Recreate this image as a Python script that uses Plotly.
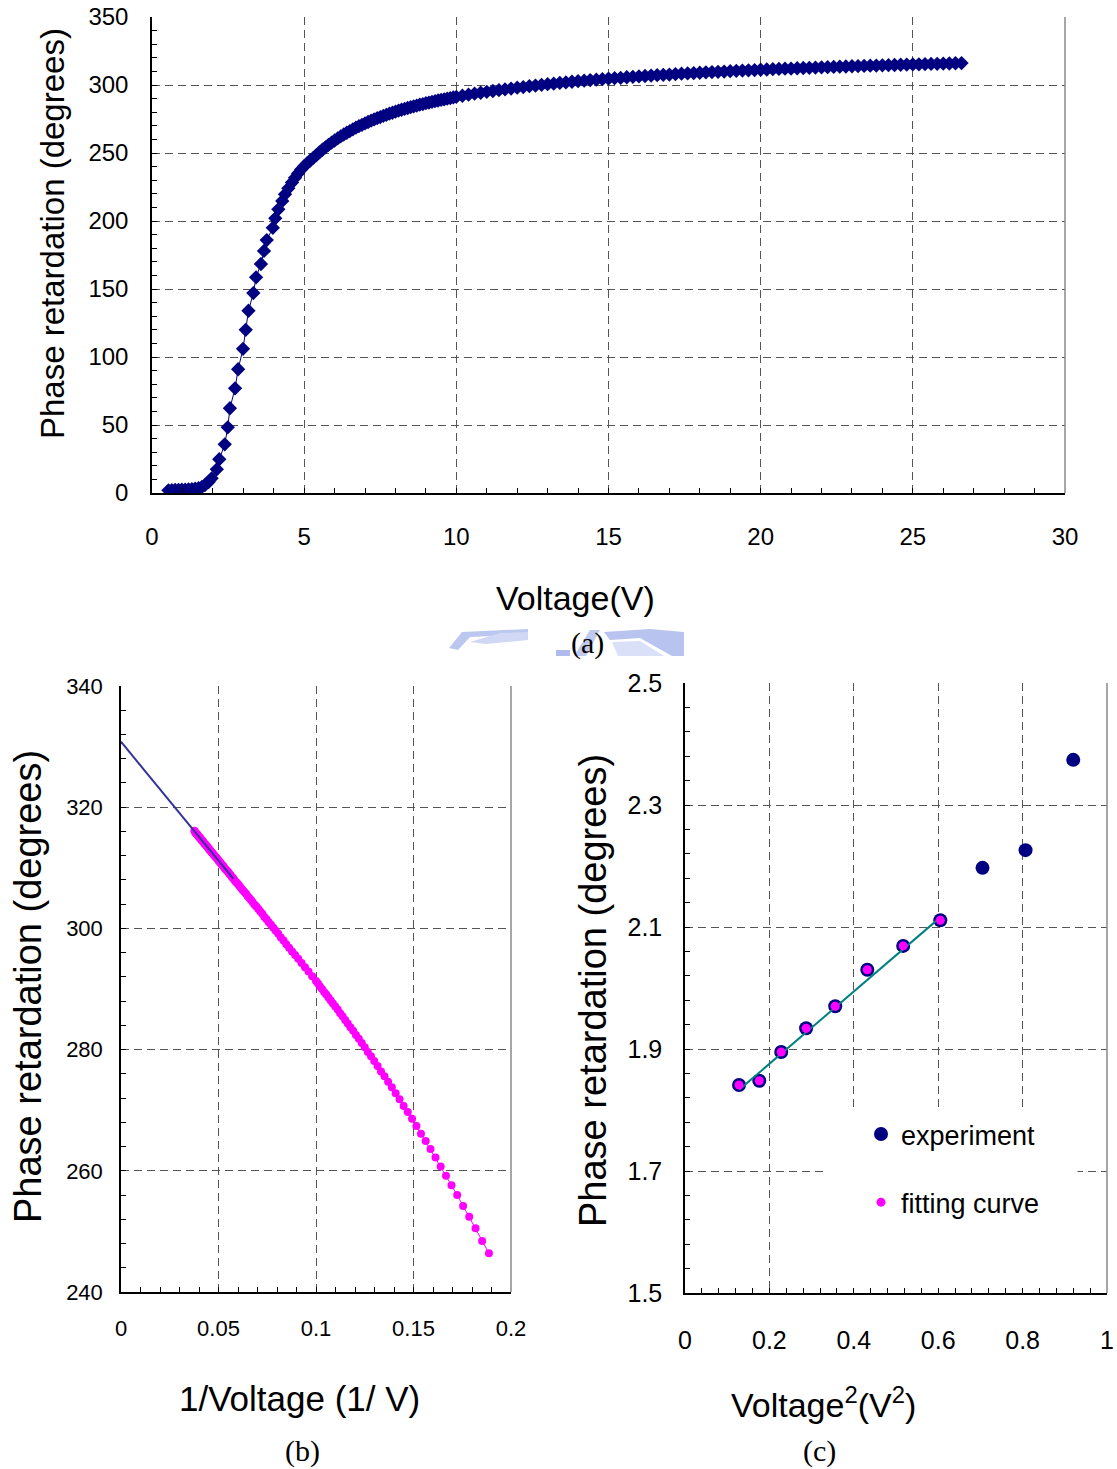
import plotly.graph_objects as go

# ---------------- data ----------------
volt = [0.54, 0.65, 0.76, 0.87, 0.98, 1.09, 1.20, 1.31, 1.42, 1.53, 1.64,
        1.74, 1.86, 1.96, 2.13, 2.21, 2.39, 2.49, 2.56, 2.73, 2.83, 2.99, 3.08, 3.17,
        3.33, 3.42, 3.58, 3.68, 3.77, 3.97, 4.05, 4.15, 4.28, 4.37, 4.48,
        4.6, 4.7, 4.8, 4.9, 5.0, 5.1, 5.2,
        5.3, 5.4, 5.5, 5.6, 5.7, 5.8, 5.9, 6.0, 6.1, 6.2, 6.3, 6.4, 6.5, 6.6, 6.7, 6.8, 6.9,
        7.0, 7.1, 7.2, 7.3, 7.4, 7.5, 7.6, 7.7, 7.8, 7.9, 8.0, 8.1, 8.2, 8.3, 8.4, 8.5, 8.6,
        8.7, 8.8, 8.9, 9.0, 9.1, 9.2, 9.3, 9.4, 9.5, 9.6, 9.7, 9.8, 9.9, 10.0,
        10.2, 10.4, 10.6, 10.8, 11.0, 11.2, 11.4, 11.6, 11.8, 12.0, 12.2, 12.4, 12.6, 12.8,
        13.0, 13.2, 13.4, 13.6, 13.8, 14.0, 14.2, 14.4, 14.6, 14.8, 15.0, 15.2, 15.4, 15.6,
        15.8, 16.0, 16.2, 16.4, 16.6, 16.8, 17.0, 17.2, 17.4, 17.6, 17.8, 18.0, 18.2, 18.4,
        18.6, 18.8, 19.0, 19.2, 19.4, 19.6, 19.8, 20.0, 20.2, 20.4, 20.6, 20.8, 21.0, 21.2,
        21.4, 21.6, 21.8, 22.0, 22.2, 22.4, 22.6, 22.8, 23.0, 23.2, 23.4, 23.6, 23.8, 24.0,
        24.2, 24.4, 24.6, 24.8, 25.0, 25.2, 25.4, 25.6, 25.8, 26.0, 26.2, 26.4, 26.6]

phase = [2.0, 2.1, 2.2, 2.3, 2.4, 2.5, 2.7, 2.9, 3.2, 3.6, 4.5,
         5.9, 8.0, 10.8, 17.4, 24.8, 35.8, 48.3, 62.3, 77.0, 91.0, 106.0, 120.0, 134.0,
         147.0, 158.6, 168.4, 178.0, 186.0, 195.0, 202.0, 208.6, 214.7, 219.6, 224.0,
         228.3, 231.8, 235.0, 237.8, 240.3, 242.5, 244.5,
         246.4, 248.4, 250.5, 252.4, 254.2, 256.0, 257.6, 259.2, 260.7, 262.2, 263.6, 264.9,
         266.1, 267.4, 268.6, 269.7, 270.7, 271.8, 272.8, 273.8, 274.7, 275.6, 276.4, 277.3,
         278.1, 278.9, 279.6, 280.4, 281.1, 281.8, 282.4, 283.1, 283.7, 284.3, 284.9, 285.5,
         286.0, 286.6, 287.1, 287.6, 288.1, 288.6, 289.1, 289.5, 290.0, 290.4, 290.9, 291.3,
         292.1, 292.9, 293.6, 294.3, 295.0, 295.6, 296.2, 296.8, 297.4, 298.0, 298.5, 299.1,
         299.6, 300.1, 300.6, 301.0, 301.5, 301.9, 302.4, 302.8, 303.2, 303.6, 303.9, 304.3,
         304.7, 305.0, 305.3, 305.7, 306.0, 306.3, 306.6, 306.9, 307.2, 307.5, 307.7, 308.0,
         308.3, 308.5, 308.8, 309.0, 309.3, 309.5, 309.7, 309.9, 310.2, 310.4, 310.6, 310.8,
         311.0, 311.2, 311.4, 311.6, 311.8, 312.0, 312.1, 312.3, 312.5, 312.6, 312.8, 313.0,
         313.1, 313.3, 313.5, 313.6, 313.8, 313.9, 314.0, 314.2, 314.3, 314.5, 314.6, 314.7,
         314.9, 315.0, 315.1, 315.2, 315.4, 315.5, 315.6, 315.7, 315.8, 316.0, 316.1]

assert len(volt) == len(phase)

# (b) linear extrapolation line
fit_b_x = [0.0, 0.0576]
fit_b_y = [330.8, 308.2]

# (c) data
exp_x = [0.128, 0.176, 0.228, 0.287, 0.356, 0.432, 0.517, 0.605, 0.705, 0.807, 0.920]
exp_y = [1.841, 1.848, 1.895, 1.934, 1.970, 2.030, 2.069, 2.111, 2.197, 2.226, 2.374]
n_fit = 8
fit_c_x = [0.128, 0.607]
fit_c_y = [1.833, 2.117]

# ---------------- layout helpers ----------------
W, H = 1117, 1469
def fx(x): return x / W
def fy(y): return 1 - y / H

SANS = "Liberation Sans, Arial, sans-serif"
SERIF = "Liberation Serif, Times New Roman, serif"
NAVY = "#000080"
MAG = "#FF00FF"
GRID = "#555555"

fig = go.Figure()

# (a)
fig.add_trace(go.Scatter(x=volt, y=phase, mode="lines+markers",
                         marker=dict(symbol="diamond", size=11, color=NAVY),
                         line=dict(color=NAVY, width=1),
                         xaxis="x", yaxis="y", showlegend=False))

# (b)
recip = [1.0 / v for v in volt if v >= 5.25]
phase_b = [p for v, p in zip(volt, phase) if v >= 5.25]
fig.add_trace(go.Scatter(x=recip, y=phase_b, mode="lines+markers",
                         marker=dict(size=8, color=MAG),
                         line=dict(color=MAG, width=1),
                         xaxis="x2", yaxis="y2", showlegend=False))
fig.add_trace(go.Scatter(x=fit_b_x, y=fit_b_y, mode="lines",
                         line=dict(color="#333399", width=2),
                         xaxis="x2", yaxis="y2", showlegend=False))

# (c)
fig.add_trace(go.Scatter(x=exp_x, y=exp_y, mode="markers", name="experiment",
                         marker=dict(size=14, color=NAVY),
                         legendgroup="e", xaxis="x3", yaxis="y3"))
fig.add_trace(go.Scatter(x=fit_c_x, y=fit_c_y, mode="lines",
                         line=dict(color="#008080", width=2),
                         showlegend=False, xaxis="x3", yaxis="y3"))
fig.add_trace(go.Scatter(x=exp_x[:n_fit], y=exp_y[:n_fit], mode="markers", name="fitting curve",
                         marker=dict(size=9, color=MAG),
                         legendgroup="f", xaxis="x3", yaxis="y3"))


def axis(domain, rng, dtick, minor_dtick, anchor, fsize, standoff, tick0=0, fmt=None):
    d = dict(domain=domain, range=rng, dtick=dtick, tick0=tick0, anchor=anchor,
             automargin=False,
             showgrid=True, gridcolor=GRID, gridwidth=1, griddash="8px,5px",
             showline=True, linecolor="black", linewidth=1.5,
             ticks="inside", ticklen=5, tickcolor="black", tickwidth=1,
             minor=dict(dtick=minor_dtick, tick0=tick0, ticks="inside", ticklen=5,
                        tickcolor="black", showgrid=False),
             tickfont=dict(family=SANS, size=fsize, color="black"),
             ticklabelstandoff=standoff, zeroline=False, fixedrange=True)
    if fmt:
        d["tickformat"] = fmt
    return d

fig.update_layout(
    width=W, height=H, margin=dict(l=0, r=0, t=0, b=0, pad=0, autoexpand=False),
    paper_bgcolor="white", plot_bgcolor="white",
    xaxis=axis([fx(152), fx(1065)], [0, 30], 5, 1, "y", 24, 21),
    yaxis=axis([fy(493), fy(17)], [0, 350], 50, 10, "x", 24, 17),
    xaxis2=axis([fx(121), fx(511)], [0, 0.2], 0.05, 0.01, "y2", 22, 16),
    yaxis2=axis([fy(1292), fy(686)], [240, 340], 20, 4, "x2", 22, 12),
    xaxis3=axis([fx(685), fx(1107)], [0, 1], 0.2, 0.04, "y3", 25, 24),
    yaxis3=axis([fy(1293), fy(683)], [1.5, 2.5], 0.2, 0.04, "x3", 25, 16, tick0=1.5, fmt=".1f"),
    legend=dict(x=fx(861), y=fy(1110), xanchor="left", yanchor="top",
                bgcolor="rgba(0,0,0,0)", font=dict(family=SANS, size=27, color="black"),
                tracegroupgap=30, traceorder="grouped"),
)

shapes = []
# white area behind legend in (c)
shapes.append(dict(type="rect", xref="x3", yref="y3", x0=0.327, x1=0.93, y0=1.5, y1=1.797,
                   fillcolor="white", line=dict(width=0), layer="between"))
# right borders
for xr, yr in (("x domain", "y domain"), ("x2 domain", "y2 domain"), ("x3 domain", "y3 domain")):
    shapes.append(dict(type="line", xref=xr, yref=yr, x0=1, x1=1, y0=0, y1=1,
                       line=dict(color="#888888", width=1.5)))

# faint watermark pieces behind "(a)"
def poly(pts, color):
    p = "M " + " L ".join(f"{fx(x):.5f},{fy(y):.5f}" for x, y in pts) + " Z"
    shapes.append(dict(type="path", xref="paper", yref="paper", path=p,
                       fillcolor=color, line=dict(width=0), layer="below"))

poly([(449, 648), (462, 632), (528, 629), (528, 634), (470, 637), (458, 650)], "#bcc7f0")
poly([(470, 642), (500, 633), (528, 632), (528, 640), (486, 644)], "#d0d8f5")
poly([(556, 650), (570, 650), (570, 656), (556, 656)], "#aebbec")
poly([(574, 656), (590, 630), (600, 630), (586, 656)], "#c0caf1")
poly([(604, 632), (650, 629), (684, 632), (684, 656), (672, 656), (640, 638), (610, 640)], "#b8c4ef")
poly([(612, 642), (640, 641), (664, 656), (618, 656)], "#dae0f7")
fig.update_layout(shapes=shapes)

ann = []
def text(x, y, s, size, family=SANS, angle=0):
    ann.append(dict(x=fx(x), y=fy(y), xref="paper", yref="paper", text=s, showarrow=False,
                    textangle=angle, font=dict(family=family, size=size, color="black"),
                    xanchor="center", yanchor="middle"))

text(52, 234, "Phase retardation (degrees)", 33, angle=-90)
text(575, 598, "Voltage(V)", 34)
text(587, 643, "(a)", 30, SERIF)
text(28, 987, "Phase retardation (degrees)", 38, angle=-90)
text(299, 1398, "1/Voltage (1/ V)", 35)
text(303, 1451, "(b)", 30, SERIF)
text(593, 991, "Phase retardation (degrees)", 38, angle=-90)
text(823, 1402, "Voltage<sup>2</sup>(V<sup>2</sup>)", 34)
text(819, 1451, "(c)", 30, SERIF)
fig.update_layout(annotations=ann)

fig.write_html("out.html")
